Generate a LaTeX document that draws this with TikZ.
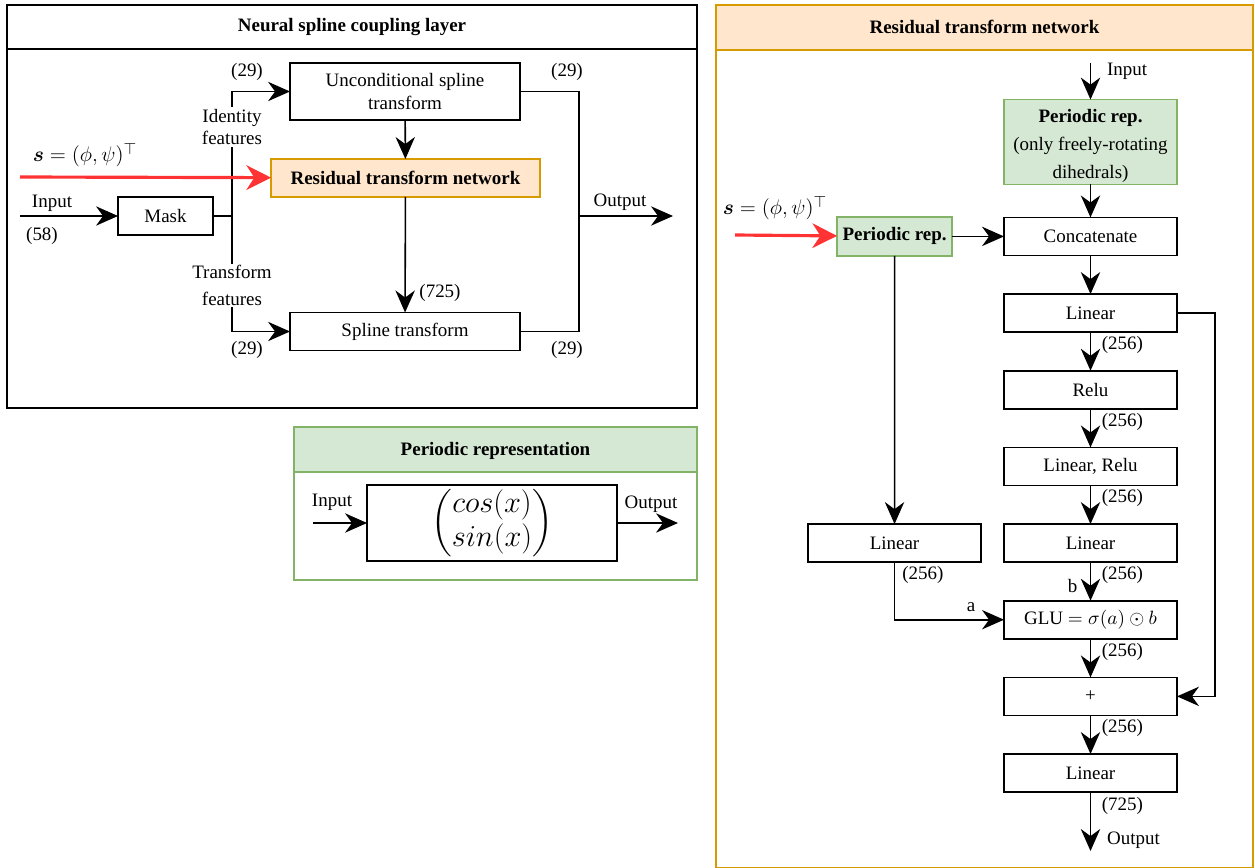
\documentclass[tikz,border=0pt]{standalone}
\usepackage{amsmath}
\usepackage{amssymb}
\usepackage{fontspec}
\setmainfont{Liberation Serif}
\usetikzlibrary{arrows.meta, calc, positioning}
\definecolor{rtnfill}{HTML}{FFE6CC}
\definecolor{rtnline}{HTML}{D79B00}
\definecolor{perfill}{HTML}{D5E8D4}
\definecolor{perline}{HTML}{82B366}
\definecolor{condred}{HTML}{FF3333}
\newcommand{\figsize}{\fontsize{10.8}{13}\selectfont}
\tikzset{
>={Stealth[length=12.5pt,width=11pt,inset=4pt]}, % heavy arrow heads
every path/.style={line width=0.9pt},
block/.style={draw, minimum height=0.76cm, inner sep=1pt, outer sep=0pt, align=center},
colblock/.style={block, minimum width=3.46cm}, % boxes of the right column
rtnbox/.style={block, fill=rtnfill, draw=rtnline},
perbox/.style={block, fill=perfill, draw=perline},
boldtext/.style={font=\figsize\bfseries},
dims/.style={inner sep=1pt},
cutlabel/.style={fill=white, inner sep=1pt, align=center}, % label cutting through a line
condarrow/.style={->, condred, line width=1.8pt, >={Stealth[length=14pt,width=14pt,inset=4.5pt]}},
}

\begin{document}
\begin{tikzpicture}[x=0.02cm, y=-0.02cm, font=\figsize, node distance=0.7735cm]
  \useasboundingbox (0,0) rectangle (1255,868);

  % neural spline coupling layer
  \draw (7,5) rectangle (697,408);
  \draw (7,49) -- (697,49);
  \node[boldtext] (nsctitle) at (352,27) {Neural spline coupling layer};

  \node[block, minimum width=4.6cm, minimum height=1.14cm] (uncond) at (405,91.5) {Unconditional spline\\transform};
  \node[rtnbox, boldtext, minimum width=5.38cm] (rtn) at (405.5,178) {Residual transform network};
  \node[block, minimum width=4.6cm] (spline) at (405,331.5) {Spline transform};
  \node[block, minimum width=1.9cm] (mask) at (165.5,216) {Mask};
  \coordinate (split) at (232,216);
  \coordinate (merge) at (579,216);
  \coordinate (nscin) at (20,216);
  \coordinate (nscout) at (673,216);
  \coordinate (nscs) at (20,177);

  \draw[->] (nscin) -- (mask);
  \draw (mask) -- (split);
  \draw[->] (split) |- (uncond);
  \draw[->] (split) |- (spline);
  \draw (uncond) -| (merge) |- (spline);
  \draw[->] (merge) -- (nscout);
  \path[->]
  (uncond) edge (rtn)
  (rtn) edge (spline);
  \draw[condarrow] (nscs) -- (rtn);

  \node[cutlabel] (idlab) at (232,127) {Identity\\features};
  \node[cutlabel] (trlab) at (232,285.5) {Transform\\[2pt]features};
  \node[dims] at (247,72) {(29)};
  \node[dims] at (247,350) {(29)};
  \node[dims] at (567,72) {(29)};
  \node[dims] at (567,350) {(29)};
  \node[dims] at (440,293) {(725)};
  \node[dims] at (52,203) {Input};
  \node[dims] at (42,236) {(58)};
  \node[dims] at (620,202) {Output};
  \node[dims, font=\fontsize{12.7}{15}\selectfont] (slab) at (85,155) {$\boldsymbol{s} = (\phi,\psi)^\top$};

  % periodic representation
  \draw[perline, fill=perfill] (294,427) rectangle (697,472);
  \draw[perline] (294,427) rectangle (697,580);
  \node[boldtext] (pertitle) at (495.5,451) {Periodic representation};
  \node[block, minimum width=5cm, minimum height=1.52cm] (sincos) at (492,523)
    {\fontsize{16}{19}\selectfont$\biggl(\begin{matrix} cos(x)\\ sin(x)\end{matrix}\biggr)$};
  \coordinate (perin) at (313,523);
  \coordinate (perout) at (678,523);
  \draw[->] (perin) -- (sincos);
  \draw[->] (sincos) -- (perout);
  \node[dims] at (332,502) {Input};
  \node[dims] at (651,504) {Output};

  % residual transform network
  \draw[rtnline, fill=rtnfill] (716,5) rectangle (1253,50);
  \draw[rtnline] (716,5) rectangle (1253,868);
  \node[boldtext] (rtntitle) at (984.5,27) {Residual transform network};

  \node[perbox, colblock, minimum height=1.68cm] (perrep) at (1090.5,142)
    {\rule{0pt}{12pt}\textbf{Periodic rep.}\\[3pt](only freely-rotating\\[3pt]dihedrals)};
  \node[colblock, below=0.66cm of perrep] (concat) {Concatenate};
  \node[colblock, below=of concat] (lin1) {Linear};
  \node[colblock, below=of lin1] (relu) {Relu};
  \node[colblock, below=of relu] (linrelu) {Linear, Relu};
  \node[colblock, below=of linrelu] (lin2) {Linear};
  \node[colblock, below=of lin2] (glu) {GLU $= \sigma(a) \odot b$};
  \node[colblock, below=of glu] (plus) {+};
  \node[colblock, below=of plus] (lin3) {Linear};

  \node[perbox, boldtext, minimum width=2.3cm, minimum height=0.78cm, left=1.04cm of concat] (perrep2) {Periodic rep.};
  \node[colblock, left=0.46cm of lin2] (linA) {Linear};

  \coordinate[above=0.74cm of perrep] (rtnin);
  \coordinate[below=1.18cm of lin3] (rtnout);
  \coordinate (rtns) at (735,235);

  \path[->]
  (rtnin) edge node[dims, right=8pt, pos=0.24]{Input} (perrep)
  (perrep) edge (concat)
  (concat) edge (lin1)
  (lin1) edge node[dims, right=5pt, pos=0.33]{(256)} (relu)
  (relu) edge node[dims, right=5pt, pos=0.33]{(256)} (linrelu)
  (linrelu) edge node[dims, right=5pt, pos=0.33]{(256)} (lin2)
  (lin2) edge node[dims, right=5pt, pos=0.33]{(256)} node[dims, left=6pt, pos=0.62]{b} (glu)
  (glu) edge node[dims, right=5pt, pos=0.33]{(256)} (plus)
  (plus) edge node[dims, right=5pt, pos=0.33]{(256)} (lin3)
  (lin3) edge node[dims, right=5pt, pos=0.24]{(725)} node[dims, right=8pt, pos=0.81]{Output} (rtnout)
  (perrep2) edge (concat)
  (perrep2) edge (linA);
  \draw[->] (linA) |- node[dims, right=3pt, pos=0.11]{(256)} node[dims, above=3pt, pos=0.85]{a} (glu);
  \draw[->] (lin1.east) -- ++(38,0) |- (plus.east);
  \draw[condarrow] (rtns) -- (perrep2);
  \node[dims, font=\fontsize{12.7}{15}\selectfont] (slab2) at (775,208) {$\boldsymbol{s} = (\phi,\psi)^\top$};
\end{tikzpicture}
\end{document}
